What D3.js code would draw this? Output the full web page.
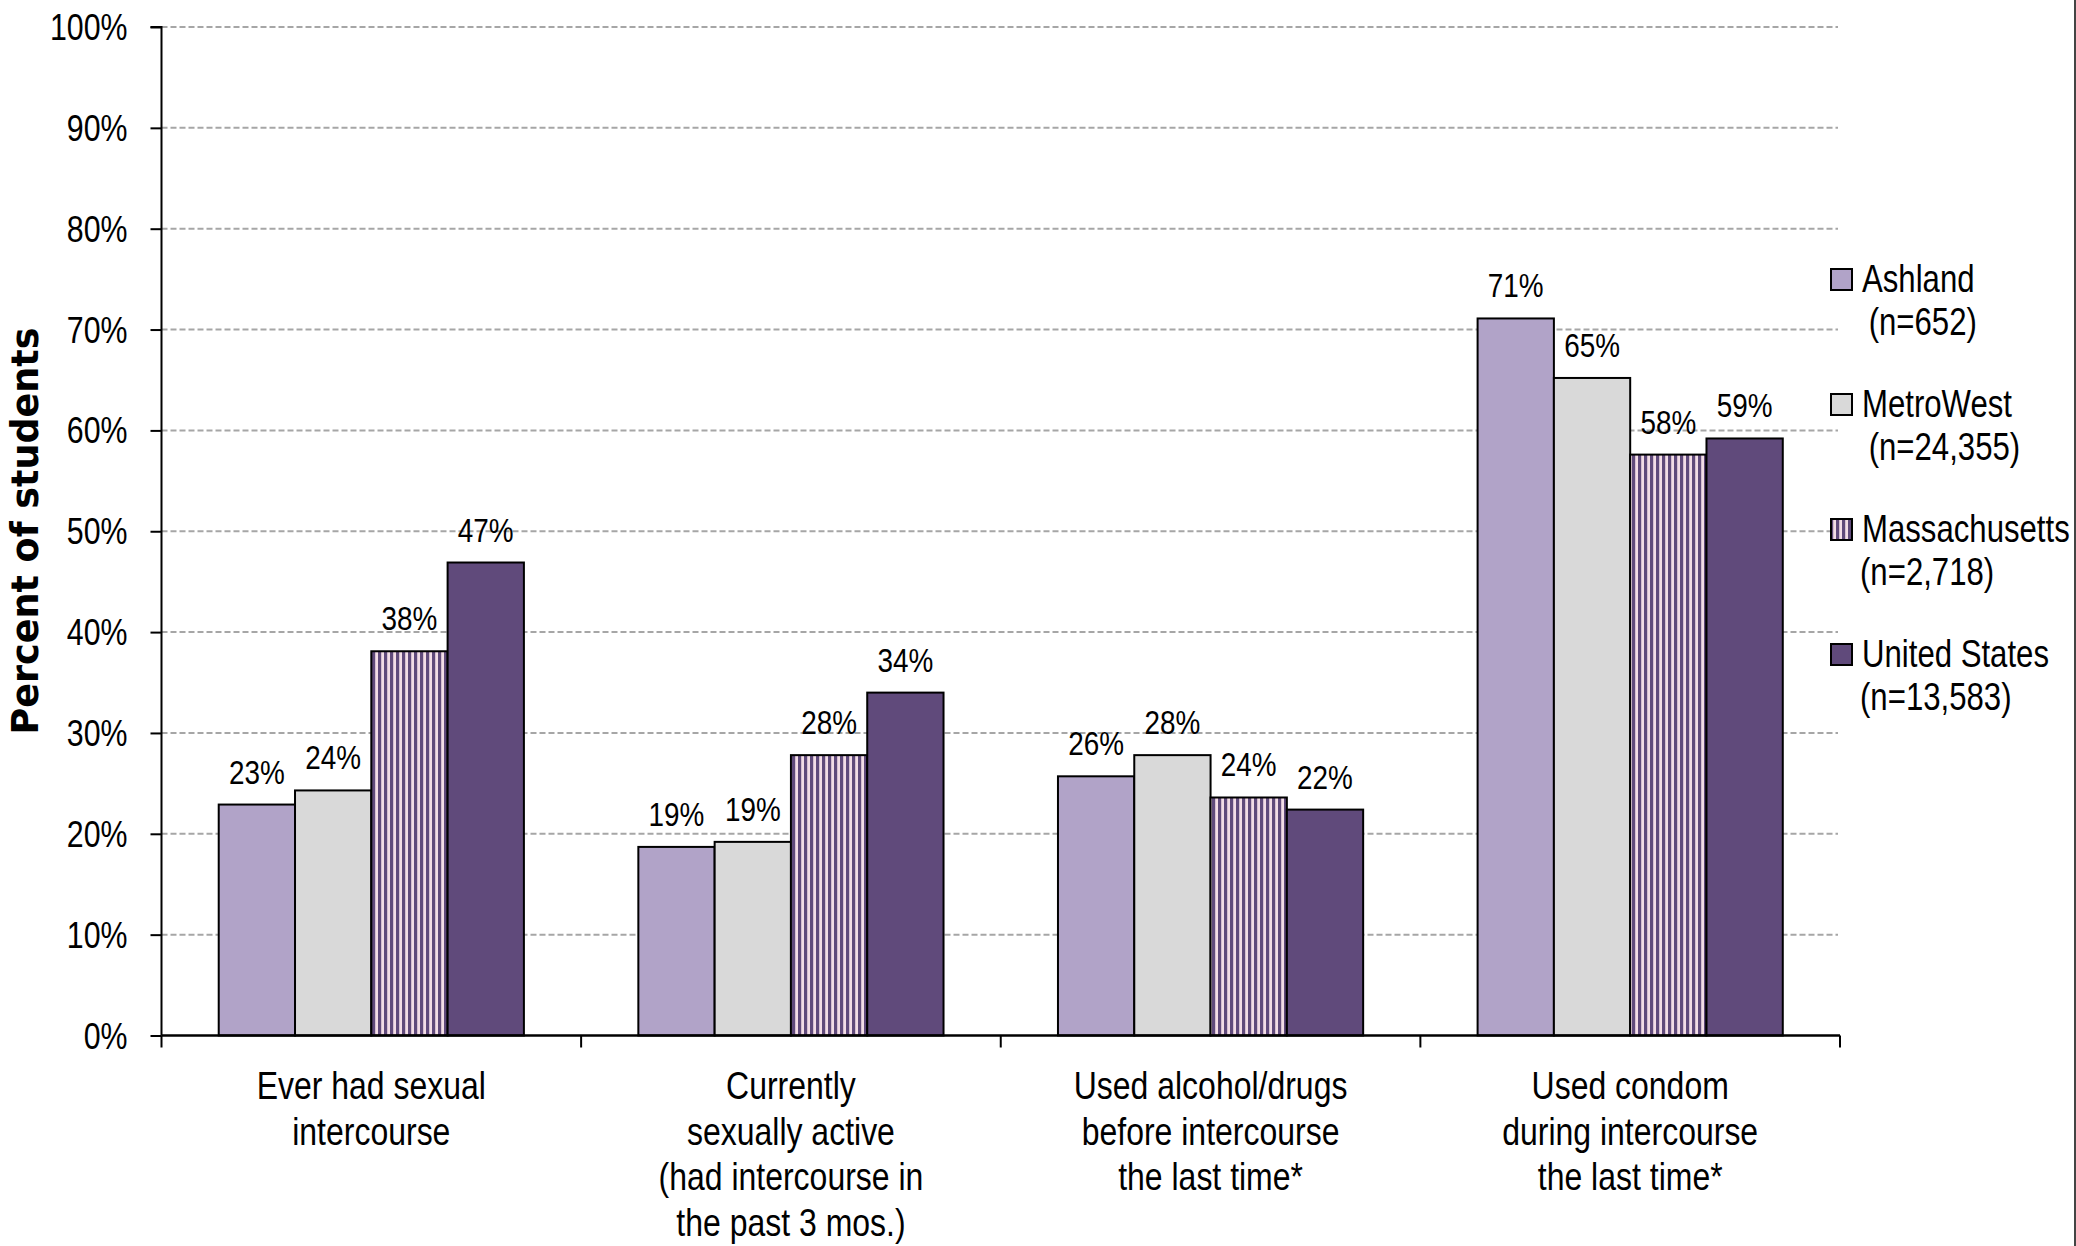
<!DOCTYPE html>
<html>
<head>
<meta charset="utf-8">
<script src="https://cdn.jsdelivr.net/npm/d3@7"></script>
<style>
  html, body { margin: 0; padding: 0; background: #fff; }
  svg { display: block; }
  .lab { font-family: "Liberation Sans", Arial, sans-serif; }
</style>
</head>
<body>
<svg id="chart" width="2076" height="1246"></svg>
<script>
// ---- Data ----
const categories = [
  "Ever had sexual intercourse",
  "Currently sexually active (had intercourse in the past 3 mos.)",
  "Used alcohol/drugs before intercourse the last time*",
  "Used condom during intercourse the last time*"
];
const categoryLines = [
  ["Ever had sexual", "intercourse"],
  ["Currently", "sexually active", "(had intercourse in", "the past 3 mos.)"],
  ["Used alcohol/drugs", "before intercourse", "the last time*"],
  ["Used condom", "during intercourse", "the last time*"]
];
const seriesNames = ["Ashland", "MetroWest", "Massachusetts", "United States"];
const seriesSizes = [" (n=652)", " (n=24,355)", "(n=2,718)", "(n=13,583)"];
const ashland = [22.9, 18.7, 25.7, 71.1];
const metroWest = [24.3, 19.2, 27.8, 65.2];
const massachusetts = [38.1, 27.8, 23.6, 57.6];
const unitedStates = [46.9, 34.0, 22.4, 59.2];
const yTicks = [0, 10, 20, 30, 40, 50, 60, 70, 80, 90, 100];
const yTitle = "Percent of students";

const seriesValues = [ashland, metroWest, massachusetts, unitedStates];
const fills = ["#b1a3c8", "#d9d9d9", "url(#stripes)", "#604a7b"];

// ---- Layout ----
const SX = 0.82; // horizontal condensing of label font
const svg = d3.select("#chart");
const pLeft = 161.5, pRight = 1840, pTop = 27, pBottom = 1035.5;

function label(parent, x, yy, str, size, anchor) {
  const g = parent.append("g").attr("transform", `translate(${x},${yy}) scale(${SX},1)`);
  return g.append("text").attr("class", "lab").attr("font-size", size)
    .attr("text-anchor", anchor || "start").attr("fill", "#000")
    .style("white-space", "pre").text(str);
}

const defs = svg.append("defs");
const pat = defs.append("pattern").attr("id", "stripes")
  .attr("patternUnits", "userSpaceOnUse").attr("width", 6).attr("height", 6);
pat.append("rect").attr("width", 6).attr("height", 6).attr("fill", "#f3dde6");
pat.append("rect").attr("width", 3.2).attr("height", 6).attr("fill", "#604a7b");

const x0 = d3.scaleBand().domain(categories).range([pLeft, pRight]).paddingInner(0).paddingOuter(0);
const x1 = d3.scaleBand().domain(seriesNames).range([0, x0.bandwidth()]).paddingInner(0).paddingOuter(0.75);
const y = d3.scaleLinear().domain([0, 100]).range([pBottom, pTop]);

// gridlines
svg.append("g").selectAll("line").data(yTicks.filter(d => d > 0)).join("line")
  .attr("x1", pLeft).attr("x2", pRight - 2)
  .attr("y1", d => y(d)).attr("y2", d => y(d))
  .attr("stroke", "#a6a6a6").attr("stroke-width", 2).attr("stroke-dasharray", "6,3");

// bars
const rows = [];
categories.forEach((c, ci) => seriesNames.forEach((s, si) => rows.push({c, s, si, v: seriesValues[si][ci]})));

const gBars = svg.append("g");
gBars.selectAll("rect").data(rows).join("rect")
  .attr("x", d => x0(d.c) + x1(d.s))
  .attr("y", d => y(d.v))
  .attr("width", x1.bandwidth())
  .attr("height", d => y(0) - y(d.v))
  .attr("fill", d => fills[d.si])
  .attr("stroke", "#000").attr("stroke-width", 2);

// value labels
const gVals = svg.append("g");
rows.forEach(d => {
  label(gVals, x0(d.c) + x1(d.s) + x1.bandwidth() / 2, y(d.v) - 21,
        d3.format(".0f")(d.v) + "%", 34, "middle");
});

// y axis
const yAxis = d3.axisLeft(y).tickValues(yTicks).tickSize(11).tickPadding(23)
  .tickFormat(d => d + "%");
const gy = svg.append("g").attr("transform", `translate(${pLeft},0)`).call(yAxis);
gy.attr("font-family", null).attr("font-size", null);
gy.select(".domain").attr("stroke", "#000").attr("stroke-width", 2).attr("d", `M-11,${pTop}H0V${pBottom}`);
gy.selectAll(".tick line").attr("stroke", "#000").attr("stroke-width", 2);
gy.selectAll(".tick text").attr("class", "lab").attr("font-size", 37).attr("fill", "#000")
  .attr("transform", `scale(${SX},1)`).attr("x", -34 / SX).attr("dy", "0.34em");

// x axis with ticks at band boundaries
svg.append("line").attr("x1", pLeft).attr("x2", pRight).attr("y1", pBottom).attr("y2", pBottom)
  .attr("stroke", "#000").attr("stroke-width", 2.5);
const boundaries = categories.map(c => x0(c)).concat([x0(categories[categories.length - 1]) + x0.bandwidth()]);
svg.append("g").selectAll("line").data(boundaries).join("line")
  .attr("x1", d => d).attr("x2", d => d).attr("y1", pBottom).attr("y2", pBottom + 12)
  .attr("stroke", "#000").attr("stroke-width", 2);

// category labels
const gCat = svg.append("g");
categories.forEach((c, ci) => {
  categoryLines[ci].forEach((ln, li) => {
    label(gCat, x0(c) + x0.bandwidth() / 2, 1099 + li * 45.6, ln, 39, "middle");
  });
});

// y title
svg.append("text")
  .attr("transform", "translate(38,531) rotate(-90)")
  .attr("text-anchor", "middle")
  .attr("font-family", "'DejaVu Sans', sans-serif").attr("font-weight", "bold")
  .attr("font-size", 36.5).attr("fill", "#000")
  .text(yTitle);

// legend
const gLeg = svg.append("g");
seriesNames.forEach((s, i) => {
  const base = 292 + i * 125;
  gLeg.append("rect").attr("x", 1831).attr("y", base - 23).attr("width", 21).attr("height", 21)
    .attr("fill", fills[i]).attr("stroke", "#000").attr("stroke-width", 2);
  label(gLeg, 1862, base, s, 38, "start");
  label(gLeg, 1860, base + 43, seriesSizes[i], 38, "start");
});

// right border
svg.append("line").attr("x1", 2075).attr("x2", 2075).attr("y1", 0).attr("y2", 1246)
  .attr("stroke", "#444").attr("stroke-width", 2);
</script>
</body>
</html>
